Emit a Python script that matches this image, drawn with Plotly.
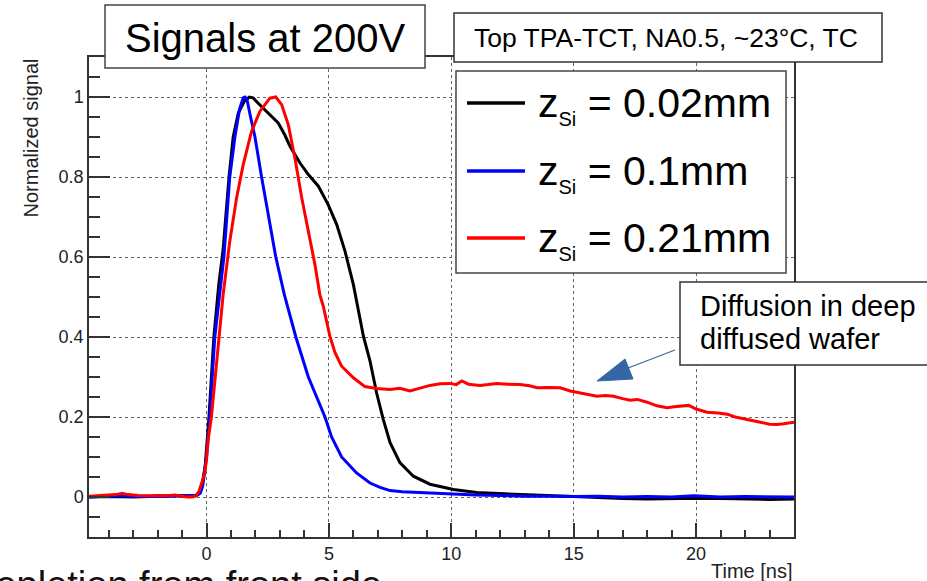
import plotly.graph_objects as go

# ---------------- data ----------------
t_002 = [-4.8, -4.0, -3.0, -2.0, -1.0, -0.5, -0.3, -0.2, -0.05, 0.1, 0.3, 0.5, 0.68, 0.92, 1.09,
         1.3, 1.55, 1.75, 1.9, 2.1, 2.38, 2.65, 2.93, 3.2, 3.41, 3.82, 4.16, 4.57, 4.97, 5.32,
         5.66, 6.0, 6.41, 6.68, 6.95, 7.22, 7.5, 7.9, 8.45, 9.13, 10.09, 11.04, 12.5, 13.76,
         15.0, 16.0, 17.0, 18.0, 19.0, 20.0, 21.0, 22.0, 23.0, 24.0]
v_002 = [0.0, 0.001, 0.0, 0.002, 0.004, 0.003, 0.008, 0.02, 0.08, 0.2, 0.4, 0.53, 0.62, 0.8, 0.9,
         0.96, 0.99, 1.0, 0.998, 0.985, 0.968, 0.95, 0.935, 0.905, 0.877, 0.835, 0.806, 0.777, 0.731, 0.681,
         0.614, 0.531, 0.402, 0.34, 0.26, 0.194, 0.136, 0.086, 0.052, 0.032, 0.019, 0.011, 0.007, 0.003,
         0.001, -0.001, -0.004, -0.005, -0.004, -0.003, -0.004, -0.005, -0.006, -0.005]

t_01 = [-4.8, -4.0, -3.5, -3.0, -2.5, -2.0, -1.5, -1.0, -0.6, -0.4, -0.25, -0.15, 0.0, 0.13, 0.34,
        0.55, 0.71, 0.95, 1.16, 1.35, 1.5, 1.57, 1.65, 1.8, 1.98, 2.25, 2.55, 2.83, 3.18, 3.65,
        4.16, 4.84, 5.11, 5.52, 6.13, 6.68, 7.09, 7.5, 8.0, 8.72, 9.5, 10.1, 11.0, 12.0, 13.0,
        14.0, 15.0, 16.0, 17.0, 18.0, 19.0, 19.9, 21.0, 22.0, 23.0, 24.0]
v_01 = [0.0, 0.002, 0.004, 0.001, 0.002, 0.001, 0.002, 0.003, 0.002, 0.004, 0.01, 0.03, 0.1, 0.2, 0.4,
        0.52, 0.6, 0.8, 0.9, 0.97, 0.998, 1.0, 0.995, 0.95, 0.9, 0.8, 0.7, 0.6, 0.506, 0.4,
        0.3, 0.2, 0.15, 0.1, 0.06, 0.035, 0.024, 0.016, 0.013, 0.011, 0.008, 0.007, 0.005, 0.004, 0.002,
        0.002, 0.001, 0.002, 0.0, 0.001, 0.0, 0.003, 0.0, 0.001, 0.0, 0.0]

t_021 = [-4.8, -4.4, -4.0, -3.7, -3.45, -3.2, -2.8, -2.4, -2.0, -1.6, -1.3, -1.0, -0.8, -0.6, -0.45,
         -0.3, -0.2, -0.07, 0.0, 0.07, 0.2, 0.41, 0.54, 0.68, 0.95, 1.23, 1.5, 1.84, 2.18, 2.59,
         2.83, 3.07, 3.34, 3.61, 3.89, 4.16, 4.43, 4.63, 4.77, 5.04, 5.25, 5.52, 6.0, 6.47, 6.95,
         7.5, 7.9, 8.31, 8.7, 9.13, 9.55, 9.95, 10.2, 10.43, 10.7, 11.18, 11.5, 11.86, 12.3, 12.81,
         13.2, 13.5, 14.0, 14.45, 14.86, 15.3, 15.95, 16.3, 16.63, 17.0, 17.31, 17.6, 18.0, 18.4, 18.81,
         19.2, 19.7, 20.0, 20.45, 20.9, 21.27, 21.6, 21.95, 22.3, 22.63, 23.0, 23.3, 23.58, 24.0]
v_021 = [0.002, 0.003, 0.004, 0.006, 0.009, 0.006, 0.004, 0.003, 0.004, 0.003, 0.005, 0.002, 0.0, 0.0, 0.002,
         0.015, 0.036, 0.06, 0.094, 0.144, 0.2, 0.336, 0.419, 0.506, 0.639, 0.748, 0.831, 0.914, 0.964, 0.997,
         1.0, 0.981, 0.931, 0.848, 0.748, 0.664, 0.581, 0.506, 0.477, 0.402, 0.361, 0.327, 0.298, 0.276, 0.271,
         0.269, 0.272, 0.265, 0.272, 0.279, 0.283, 0.284, 0.281, 0.29, 0.282, 0.279, 0.281, 0.284, 0.282, 0.281,
         0.278, 0.273, 0.274, 0.273, 0.265, 0.26, 0.252, 0.254, 0.252, 0.246, 0.242, 0.244, 0.237, 0.228, 0.223,
         0.226, 0.229, 0.22, 0.212, 0.21, 0.207, 0.2, 0.196, 0.192, 0.187, 0.182, 0.181, 0.183, 0.187]

series_names = ["z<sub>Si</sub> = 0.02mm", "z<sub>Si</sub> = 0.1mm", "z<sub>Si</sub> = 0.21mm"]
legend_labels = ["0.02mm", "0.1mm", "0.21mm"]
colors = ["#000000", "#0000ff", "#ff0000"]

x_ticks = [0, 5, 10, 15, 20]
y_ticks = [0, 0.2, 0.4, 0.6, 0.8, 1]

# ---------------- layout geometry ----------------
W, H = 927, 581
L, R, T, B = 89, 794, 57, 537  # plot area in pixels
FONT = "Liberation Sans, Arial, Helvetica, sans-serif"


def px(xp):
    return (xp - L) / (R - L)


def py(yp):
    return (B - yp) / (B - T)


fig = go.Figure()
for t, v, name, c in zip([t_002, t_01, t_021], [v_002, v_01, v_021], series_names, colors):
    fig.add_trace(go.Scatter(x=t, y=v, mode="lines", name=name,
                             line=dict(color=c, width=3), showlegend=False))

axis_common = dict(showline=True, linecolor="#333333", linewidth=1.5, mirror=True,
                   ticks="inside", tickcolor="#333333", tickwidth=1.5,
                   showgrid=True, gridcolor="#666666", gridwidth=1, griddash="dot",
                   zeroline=False, tickfont=dict(family=FONT, size=18, color="#222222"))

fig.update_xaxes(range=[-4.8, 24.0], tickmode="array", tickvals=x_ticks, ticklen=14,
                 minor=dict(ticks="inside", ticklen=7, dtick=1, tick0=0, tickcolor="#333333",
                            tickwidth=1.5, showgrid=False),
                 **axis_common)
fig.update_yaxes(range=[-0.1, 1.1], tickmode="array", tickvals=y_ticks,
                 ticktext=[str(v) if v not in (0, 1) else str(int(v)) for v in y_ticks], ticklen=21,
                 minor=dict(ticks="inside", ticklen=11, dtick=0.05, tick0=0, tickcolor="#333333",
                            tickwidth=1.5, showgrid=False),
                 **axis_common)

shapes = []
annotations = []

# title box
shapes.append(dict(type="rect", xref="paper", yref="paper", x0=px(105), x1=px(425), y0=py(68), y1=py(5),
                   line=dict(color="#444444", width=1.5), fillcolor="white", layer="above"))
annotations.append(dict(text="Signals at 200V", xref="paper", yref="paper", x=px(265), y=py(38),
                        xanchor="center", yanchor="middle", showarrow=False,
                        font=dict(family=FONT, size=40, color="black")))

# condition box
shapes.append(dict(type="rect", xref="paper", yref="paper", x0=px(454), x1=px(882), y0=py(62), y1=py(13),
                   line=dict(color="#333333", width=1.5), fillcolor="white", layer="above"))
annotations.append(dict(text="Top TPA-TCT, NA0.5, ~23°C, TC", xref="paper", yref="paper",
                        x=px(472), y=py(38), xanchor="left", yanchor="middle", showarrow=False,
                        font=dict(family=FONT, size=26.5, color="black")))

# legend box
shapes.append(dict(type="rect", xref="paper", yref="paper", x0=px(456), x1=px(786), y0=py(273), y1=py(71),
                   line=dict(color="#444444", width=1.5), fillcolor="white", layer="above"))
leg_y = [103, 171, 238]
for yy, lab, c in zip(leg_y, legend_labels, colors):
    shapes.append(dict(type="line", xref="paper", yref="paper", x0=px(467), x1=px(525), y0=py(yy), y1=py(yy),
                       line=dict(color=c, width=3.5), layer="above"))
    annotations.append(dict(text="z<sub><span style='font-size:20px'>Si</span></sub> = " + lab,
                            xref="paper", yref="paper", x=px(536), y=py(yy + 2),
                            xanchor="left", yanchor="middle", showarrow=False,
                            font=dict(family=FONT, size=41, color="black")))

# diffusion box
shapes.append(dict(type="rect", xref="paper", yref="paper", x0=px(680), x1=px(930), y0=py(365), y1=py(282),
                   line=dict(color="#333333", width=1.5), fillcolor="white", layer="above"))
annotations.append(dict(text="Diffusion in deep", xref="paper", yref="paper", x=px(698), y=py(306),
                        xanchor="left", yanchor="middle", showarrow=False,
                        font=dict(family=FONT, size=29, color="black")))
annotations.append(dict(text="diffused wafer", xref="paper", yref="paper", x=px(698), y=py(339),
                        xanchor="left", yanchor="middle", showarrow=False,
                        font=dict(family=FONT, size=29, color="black")))

# arrow
arrow_col = "#3465A4"
shapes.append(dict(type="line", xref="paper", yref="paper", x0=px(675), y0=py(350), x1=px(628), y1=py(368),
                   line=dict(color=arrow_col, width=1.2), layer="above"))
tri = [(597, 381), (625, 359), (633, 379)]
path = "M {} {} L {} {} L {} {} Z".format(px(tri[0][0]), py(tri[0][1]), px(tri[1][0]), py(tri[1][1]),
                                          px(tri[2][0]), py(tri[2][1]))
shapes.append(dict(type="path", xref="paper", yref="paper", path=path, fillcolor=arrow_col,
                   line=dict(color=arrow_col, width=1), layer="above"))

# axis titles
annotations.append(dict(text="Normalized signal", xref="paper", yref="paper", x=px(30), y=py(57),
                        xanchor="center", yanchor="top", textangle=-90, showarrow=False,
                        font=dict(family=FONT, size=20, color="#222222")))
annotations.append(dict(text="Time [ns]", xref="paper", yref="paper", x=px(795), y=py(571),
                        xanchor="right", yanchor="middle", showarrow=False,
                        font=dict(family=FONT, size=20, color="#222222")))

# partially visible caption at the bottom
annotations.append(dict(text="Depletion from front side", xref="paper", yref="paper", x=px(384), y=py(562),
                        xanchor="right", yanchor="top", showarrow=False,
                        font=dict(family=FONT, size=38, color="#111111")))

fig.update_layout(width=W, height=H, margin=dict(l=L, r=W - R, t=T, b=H - B),
                  paper_bgcolor="white", plot_bgcolor="white",
                  shapes=shapes, annotations=annotations, showlegend=False)

fig.write_html("out.html", config=dict(displayModeBar=False),
               post_script="document.body.style.margin='0';document.body.style.overflow='hidden';")
